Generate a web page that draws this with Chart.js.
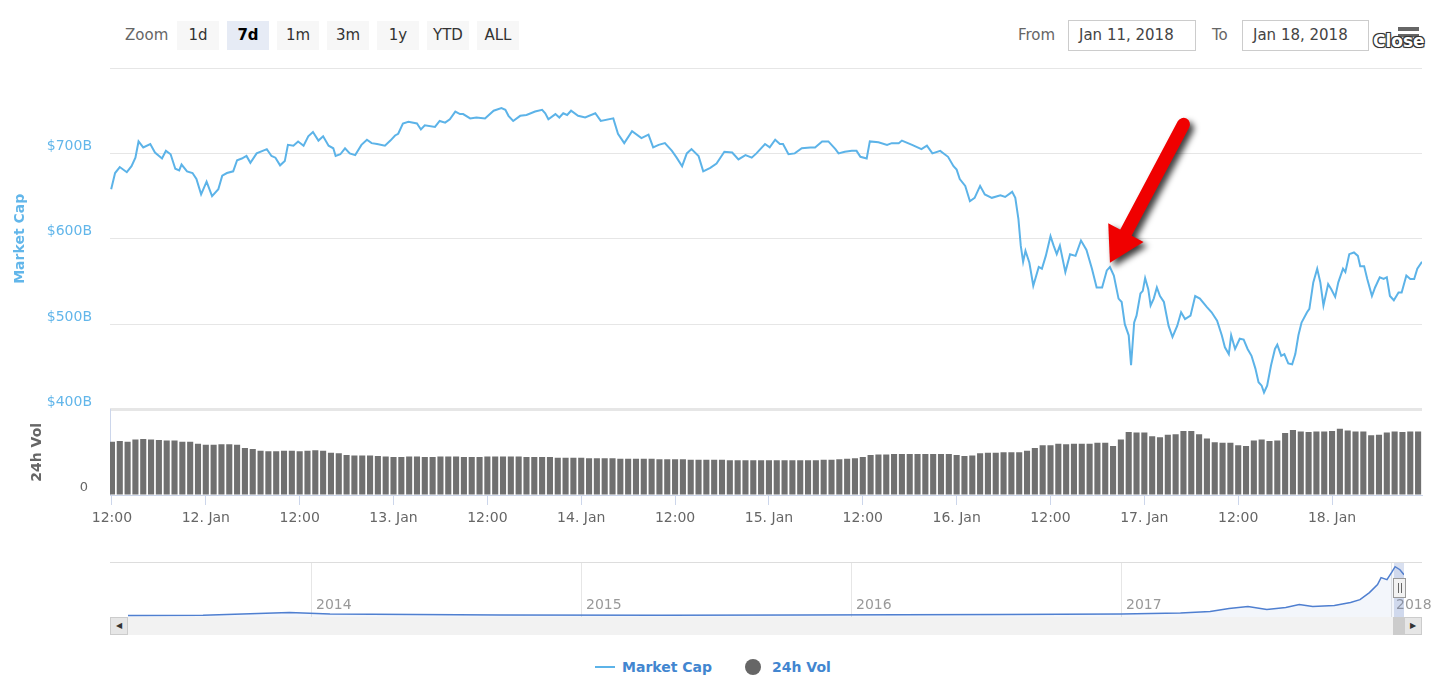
<!DOCTYPE html>
<html>
<head>
<meta charset="utf-8">
<script src="https://cdn.jsdelivr.net/npm/chart.js@4.4.1/dist/chart.umd.min.js"></script>
<style>
  body { margin: 0; background: #fff; font-family: "DejaVu Sans", sans-serif; }
  #wrap { position: relative; width: 1454px; height: 678px; overflow: hidden; }
  .abs { position: absolute; }
  .btn { position: absolute; top: 21px; width: 42px; height: 29px; line-height: 29px; background: #f7f7f7; color: #333; font-size: 15px; text-align: center; }
  .btn.sel { background: #e6ebf5; font-weight: bold; color: #000; }
  .lbl { position: absolute; top: 21px; line-height: 29px; font-size: 15px; color: #666; }
  .inp { position: absolute; top: 20px; height: 31px; line-height: 29px; border: 1px solid #ccc; box-sizing: border-box; font-size: 15px; color: #444; padding-left: 10px; }
  .leg { position: absolute; top: 657px; line-height: 20px; font-size: 14px; font-weight: bold; color: #4286d0; }
</style>
</head>
<body>
<div id="wrap">
  <!-- range selector -->
  <div class="lbl" style="left:125px;">Zoom</div>
  <div class="btn" style="left:177px;">1d</div>
  <div class="btn sel" style="left:227px;">7d</div>
  <div class="btn" style="left:277px;">1m</div>
  <div class="btn" style="left:327px;">3m</div>
  <div class="btn" style="left:377px;">1y</div>
  <div class="btn" style="left:427px;">YTD</div>
  <div class="btn" style="left:477px;">ALL</div>
  <div class="lbl" style="left:1018px;">From</div>
  <div class="inp" style="left:1068px;width:128px;">Jan 11, 2018</div>
  <div class="lbl" style="left:1212px;">To</div>
  <div class="inp" style="left:1242px;width:127px;">Jan 18, 2018</div>
  <div class="abs" style="left:1398px;top:27px;width:21px;height:4px;background:#666;"></div>
  <div class="abs" style="left:1398px;top:34px;width:21px;height:3px;background:#666;"></div>
  <div class="abs" style="left:1373px;top:31px;font-size:17px;font-weight:bold;color:#fff;text-shadow:-1px -1px 0 #333,1px -1px 0 #333,-1px 1px 0 #333,1px 1px 0 #333,0 0 2px #000;">Close</div>

  <!-- main chart -->
  <div class="abs" style="left:0;top:55px;width:1454px;height:490px;"><canvas id="main"></canvas></div>

  <!-- navigator -->
  <div class="abs" style="left:110px;top:562px;width:1312px;height:1px;background:#ddd;"></div>
  <div class="abs" style="left:0;top:555px;width:1454px;height:62px;"><canvas id="nav"></canvas></div>
  <div class="abs" style="left:1394px;top:563px;width:10px;height:54px;background:rgba(102,133,194,0.25);"></div>
  <div class="abs" style="left:1393px;top:578px;width:13px;height:20px;border:1px solid #999;background:#f2f2f2;box-sizing:border-box;"></div>
  <div class="abs" style="left:1398px;top:583px;width:1px;height:10px;background:#666;"></div>
  <div class="abs" style="left:1401px;top:583px;width:1px;height:10px;background:#666;"></div>

  <!-- scrollbar -->
  <div class="abs" style="left:110px;top:617px;width:1312px;height:18px;background:#f2f2f2;"></div>
  <div class="abs" style="left:1393px;top:617px;width:11px;height:18px;background:#cccccc;"></div>
  <div class="abs" style="left:110px;top:617px;width:18px;height:18px;background:#e6e6e6;border:1px solid #ccc;box-sizing:border-box;font-size:8px;line-height:16px;text-align:center;color:#333;">&#9664;</div>
  <div class="abs" style="left:1404px;top:617px;width:18px;height:18px;background:#e6e6e6;border:1px solid #ccc;box-sizing:border-box;font-size:8px;line-height:16px;text-align:center;color:#333;">&#9654;</div>

  <!-- legend -->
  <div class="abs" style="left:595px;top:666px;width:20px;height:2px;background:#5cb3e8;"></div>
  <div class="leg" style="left:622px;">Market Cap</div>
  <div class="abs" style="left:745px;top:659px;width:16px;height:16px;border-radius:50%;background:#666;"></div>
  <div class="leg" style="left:772px;">24h Vol</div>
</div>

<script>
// hours counted from Jan 11 2018 00:00
const capHours = [
  11.9, 12.4, 13.0, 13.9, 14.5, 15.0, 15.4, 16.0, 16.9, 17.5,
  18.4, 18.9, 19.5, 20.1, 20.6, 20.9, 21.6, 22.3, 22.8, 23.4,
  24.1, 24.8, 25.6, 26.1, 26.7, 27.5, 28.0, 28.6, 29.2, 29.7,
  30.5, 31.8, 32.4, 32.9, 33.5, 34.1, 34.5, 35.2, 35.8, 36.5,
  37.1, 37.7, 38.4, 39.0, 39.7, 40.3, 40.6, 41.2, 41.8, 42.4,
  43.1, 43.9, 44.6, 45.2, 45.9, 46.9, 47.6, 48.2, 48.6, 49.2,
  49.9, 51.0, 51.5, 52.0, 53.3, 53.9, 54.6, 55.2, 55.9, 56.5,
  56.9, 57.8, 58.6, 59.7, 60.8, 61.8, 62.3, 62.7, 63.3, 64.2,
  65.0, 66.1, 67.0, 67.4, 67.8, 68.7, 69.2, 69.7, 70.2, 70.7,
  71.6, 72.5, 73.8, 74.5, 76.1, 76.7, 77.5, 78.5, 79.7, 80.6,
  81.2, 81.9, 82.7, 83.6, 84.2, 84.9, 85.5, 86.1, 87.0, 87.6,
  88.5, 89.3, 90.3, 91.3, 92.1, 93.0, 93.8, 94.4, 95.5, 96.1,
  96.8, 97.4, 97.8, 98.5, 99.3, 100.2, 101.3, 101.9, 102.8, 103.6,
  104.5, 104.9, 105.7, 106.6, 107.2, 107.7, 108.5, 108.9, 110.0, 111.1,
  111.7, 112.6, 113.0, 114.3, 115.5, 116.2, 116.9, 117.9, 118.9, 119.6,
  120.0, 120.4, 121.1, 121.7, 122.3, 123.0, 123.6, 124.5, 125.6, 126.2,
  127.1, 127.5, 127.9, 128.2, 128.5, 128.8, 129.3, 129.8, 130.5, 130.9,
  131.4, 132.0, 132.4, 132.8, 133.2, 133.9, 134.5, 135.2, 135.9, 136.6,
  137.3, 137.9, 138.6, 139.2, 139.6, 140.1, 140.7, 141.1, 141.5, 142.0,
  142.3, 142.7, 143.0, 143.5, 143.8, 144.1, 144.5, 144.8, 145.2, 145.6,
  146.0, 146.5, 147.1, 147.6, 148.2, 148.7, 149.2, 149.9, 150.5, 151.1,
  152.0, 152.6, 153.3, 153.9, 154.3, 154.8, 155.1, 155.6, 156.2, 156.7,
  157.2, 157.7, 158.2, 158.6, 159.0, 159.3, 159.7, 160.2, 160.7, 161.0,
  161.5, 161.9, 162.4, 162.9, 163.3, 163.7, 164.1, 164.8, 165.1, 165.6,
  166.1, 166.5, 166.9, 167.5, 167.9, 168.4, 168.8, 169.4, 169.7, 170.2,
  170.8, 171.3, 171.6, 172.1, 172.5, 173.1, 173.5, 174.1, 174.6, 175.0,
  175.4, 175.9, 176.5, 176.9, 177.5, 178.0, 178.5, 178.9, 179.5
];
// market cap, $B
const capValues = [
  658, 677, 684, 678, 685, 695, 714, 707, 711, 701,
  694, 703, 699, 682, 680, 687, 679, 677, 670, 652,
  667, 650, 658, 674, 677, 679, 692, 694, 697, 689,
  700, 705, 697, 695, 686, 691, 710, 709, 714, 709,
  720, 725, 715, 720, 709, 706, 697, 699, 706, 700,
  698, 710, 716, 712, 711, 709, 715, 721, 723, 735,
  737, 735, 728, 733, 731, 738, 736, 740, 749, 746,
  746, 741, 742, 741, 750, 753, 751, 744, 738, 744,
  745, 749, 751, 747, 740, 746, 742, 747, 745, 750,
  744, 742, 747, 738, 741, 723, 712, 726, 718, 722,
  707, 710, 712, 703, 695, 685, 700, 705, 697, 679,
  683, 688, 702, 701, 693, 698, 695, 700, 711, 707,
  716, 711, 711, 699, 700, 706, 707, 707, 714, 714,
  705, 700, 702, 703, 703, 696, 694, 714, 713, 710,
  712, 712, 715, 710, 705, 709, 700, 703, 696, 685,
  681, 670, 662, 644, 648, 662, 652, 648, 651, 649,
  655, 648, 623, 592, 573, 586, 572, 545, 567, 565,
  580, 603, 592, 582, 592, 561, 582, 580, 598, 587,
  565, 543, 543, 563, 567, 557, 530, 526, 500, 487,
  452, 502, 510, 536, 539, 554, 541, 522, 530, 543,
  533, 526, 498, 485, 498, 514, 506, 510, 533, 530,
  520, 514, 504, 487, 473, 465, 487, 471, 483, 482,
  471, 463, 448, 432, 428, 420, 428, 452, 471, 476,
  463, 465, 454, 453, 465, 487, 502, 514, 518, 549,
  565, 549, 522, 547, 541, 532, 549, 565, 561, 582,
  584, 580, 568, 568, 553, 533, 543, 555, 553, 555,
  533, 528, 537, 537, 557, 553, 553, 565, 573
];

// 24h volume, $B, one bar per hour from volStartHour
const volStartHour = 12;
const volValues = [
  50, 50.5, 50, 52, 52.5, 52, 51.5, 51, 51, 50,
  50, 48, 47, 47, 47.5, 47.5, 47, 44, 43, 41.5,
  41, 41, 41.5, 41.5, 41, 41.5, 42, 41.5, 39.5, 39,
  37.5, 37, 37, 37, 36.5, 36, 35.5, 35.5,
  36, 36, 35.5, 35.5, 36, 36, 36, 35.5, 35.5, 35.5, 36,
  36, 36, 36, 36, 35.5, 35.5, 35.5, 35.5, 35, 35,
  35, 35, 34.5, 34.5, 34.5, 34.5, 34, 34, 34, 34,
  34, 33.5, 33.5, 33.5, 33.5, 33, 33, 33, 33, 33,
  32.5, 32.5, 32.5, 32.5, 32.5, 32.5, 32.5, 32.5, 32.5, 32.5,
  32.5, 32.5, 33, 33, 33.5, 34, 34.5, 35.5,
  37.5, 38, 38, 38.5,
  38.5, 38.5, 38.5, 38.5, 38.5, 38.5, 38.5,
  37.5, 36.5, 37,
  39, 39.5, 39.5, 40, 40,
  40, 41.5, 44,
  46.5, 46.5,
  48, 47.5, 48, 48, 48,
  49, 49,
  46, 52,
  59, 58.5, 58.5,
  55, 54,
  56.5, 57,
  60, 60, 57,
  53, 49.5, 49, 49,
  46.5, 46,
  51, 52,
  50.5, 51,
  58, 61, 59.5,
  59, 59.5,
  59.5, 60,
  62, 60.5,
  59.5, 59.5,
  56, 56.5,
  58.5, 59.5, 59, 59.5, 59.5
];

const tickHours = [12, 24, 36, 48, 60, 72, 84, 96, 108, 120, 132, 144, 156, 168];
const capTicks = [400, 500, 600, 700, 800];

// navigator: decimal year vs market cap $B
const navYears = [2013.32, 2013.6, 2013.92, 2014.07, 2014.7, 2015.3, 2015.81, 2016.55, 2017.0, 2017.22,
  2017.33, 2017.4, 2017.47, 2017.54, 2017.61, 2017.66, 2017.71, 2017.79, 2017.85, 2017.885,
  2017.92, 2017.95, 2017.963, 2017.985, 2018.004, 2018.015, 2018.033, 2018.048];
const navCaps = [25, 28, 75, 50, 33, 30, 33, 40, 50, 66,
  91, 141, 174, 125, 158, 208, 174, 191, 241, 290,
  407, 540, 656, 623, 755, 838, 788, 705];
const navTicks = [2014, 2015, 2016, 2017, 2018];

// annotation arrow (hour, $B)
const arrowTip = [139.6, 572];
const arrowTail = [149.0, 734];

Chart.defaults.font.family = "'DejaVu Sans', sans-serif";
Chart.defaults.animation = false;

const lineColor = "#5cb3e8";
const clear = "rgba(0,0,0,0)";

const arrowPlugin = {
  id: "arrow",
  afterDatasetsDraw(chart) {
    const { ctx, scales } = chart;
    const tx = scales.x.getPixelForValue(arrowTip[0]);
    const ty = scales.cap.getPixelForValue(arrowTip[1]);
    const sx = scales.x.getPixelForValue(arrowTail[0]);
    const sy = scales.cap.getPixelForValue(arrowTail[1]);
    const len = Math.hypot(tx - sx, ty - sy);
    const ux = (tx - sx) / len, uy = (ty - sy) / len;
    const headLen = 34, headW = 20;
    const bx = tx - ux * headLen, by = ty - uy * headLen;

    const shape = (dx, dy, color) => {
      ctx.strokeStyle = color;
      ctx.fillStyle = color;
      ctx.lineWidth = 13;
      ctx.lineCap = "round";
      ctx.beginPath();
      ctx.moveTo(sx + dx, sy + dy);
      ctx.lineTo(bx + ux * 4 + dx, by + uy * 4 + dy);
      ctx.stroke();
      ctx.beginPath();
      ctx.moveTo(tx + dx, ty + dy);
      ctx.lineTo(bx - uy * headW + dx, by + ux * headW + dy);
      ctx.lineTo(bx + uy * headW + dx, by - ux * headW + dy);
      ctx.closePath();
      ctx.fill();
    };
    ctx.save();
    ctx.filter = "blur(3px)";
    shape(4, 4, "rgba(0,0,0,0.75)");
    ctx.filter = "none";
    shape(0, 0, "#f00000");
    ctx.restore();
  }
};

// year labels sit inside the navigator plot, just right of each grid line
const navLabels = {
  id: "navLabels",
  afterDraw(chart) {
    const { ctx, chartArea, scales } = chart;
    ctx.save();
    ctx.font = "14px 'DejaVu Sans', sans-serif";
    ctx.fillStyle = "#999";
    ctx.textAlign = "left";
    ctx.textBaseline = "middle";
    navTicks.forEach((yr) => {
      ctx.fillText(String(yr), scales.x.getPixelForValue(yr) + 5, chartArea.bottom - 12);
    });
    ctx.restore();
  }
};

new Chart(document.getElementById("main"), {
  type: "line",
  data: {
    datasets: [
      {
        label: "Market Cap",
        data: capHours.map((h, i) => ({ x: h, y: capValues[i] })),
        yAxisID: "cap",
        borderColor: lineColor,
        borderWidth: 2,
        pointRadius: 0,
        tension: 0
      },
      {
        type: "bar",
        label: "24h Vol",
        data: volValues.map((v, i) => ({ x: volStartHour + i, y: v })),
        yAxisID: "vol",
        backgroundColor: "#707070",
        categoryPercentage: 1,
        barPercentage: 0.78
      }
    ]
  },
  options: {
    responsive: true,
    maintainAspectRatio: false,
    layout: { padding: { top: 13, right: 32, left: 0, bottom: 0 } },
    plugins: { legend: { display: false }, tooltip: { enabled: false } },
    scales: {
      x: {
        type: "linear",
        offset: false,
        min: 11.75,
        max: 179.5,
        afterBuildTicks: (s) => { s.ticks = tickHours.map((v) => ({ value: v })); },
        afterFit: (s) => { s.height = 50; },
        grid: { offset: false, drawOnChartArea: false, drawTicks: true, tickLength: 10, color: "#ccd6eb" },
        border: { display: true, color: "#ccd6eb" },
        ticks: {
          padding: 5,
          color: "#666",
          font: { size: 14 },
          maxRotation: 0,
          autoSkip: false,
          callback: (v) => (v % 24 === 0 ? (11 + v / 24) + ". Jan" : "12:00")
        }
      },
      vol: {
        type: "linear",
        position: "left",
        stack: "panes",
        stackWeight: 1,
        weight: 0,
        min: 0,
        max: 80,
        afterBuildTicks: (s) => { s.ticks = [{ value: 0 }, { value: 80 }]; },
        afterFit: (s) => { s.width = 110; },
        grid: { drawOnChartArea: false, drawTicks: true, tickLength: 22, tickColor: clear },
        border: { display: true, color: "#ccd6eb" },
        ticks: {
          padding: 0,
          labelOffset: -7,
          color: "#666",
          font: { size: 13 },
          callback: (v) => (v === 0 ? "0" : "")
        },
        title: { display: true, text: "24h Vol", color: "#666", font: { size: 14, weight: "bold" }, padding: { top: 29, bottom: 0 } }
      },
      cap: {
        type: "linear",
        position: "left",
        stack: "panes",
        stackWeight: 4,
        weight: 1,
        min: 400,
        max: 800,
        afterBuildTicks: (s) => { s.ticks = capTicks.map((v) => ({ value: v })); },
        afterFit: (s) => { s.width = 110; },
        grid: {
          color: "#e6e6e6",
          lineWidth: (c) => (c.tick && c.tick.value === 400 ? 3 : 1),
          drawTicks: true,
          tickLength: 18,
          tickColor: clear
        },
        border: { display: false },
        ticks: {
          padding: 0,
          labelOffset: -7,
          color: "#62b6ea",
          font: { size: 14 },
          callback: (v) => (v === 800 ? "" : "$" + v + "B")
        },
        title: { display: true, text: "Market Cap", color: "#62b6ea", font: { size: 14, weight: "bold" }, padding: { top: 12, bottom: 0 } }
      }
    }
  },
  plugins: [arrowPlugin]
});

new Chart(document.getElementById("nav"), {
  type: "line",
  data: {
    datasets: [
      {
        data: navYears.map((y, i) => ({ x: y, y: navCaps[i] })),
        borderColor: "#4f7fd0",
        borderWidth: 1.5,
        backgroundColor: "rgba(100,140,210,0.08)",
        fill: "origin",
        pointRadius: 0,
        tension: 0
      }
    ]
  },
  options: {
    responsive: true,
    maintainAspectRatio: false,
    layout: { padding: { top: 8, right: 50, left: 128, bottom: 0 } },
    plugins: { legend: { display: false }, tooltip: { enabled: false } },
    scales: {
      x: {
        type: "linear",
        min: 2013.322,
        max: 2018.048,
        afterBuildTicks: (s) => { s.ticks = navTicks.map((v) => ({ value: v })); },
        afterFit: (s) => { s.height = 0; },
        grid: { color: "#e6e6e6", drawTicks: false },
        border: { display: false },
        ticks: { display: false }
      },
      y: { display: false, min: 0, max: 900 }
    }
  },
  plugins: [navLabels]
});
</script>
</body>
</html>
